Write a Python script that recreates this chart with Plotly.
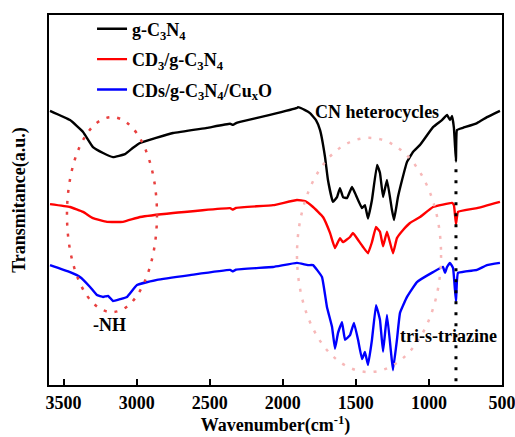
import plotly.graph_objects as go

# FTIR spectra (wavenumber in cm^-1, transmittance in arbitrary units, offset per sample)
wn_gcn = [3593, 3456, 3367, 3299, 3230, 3162, 3080, 3025, 2977, 2751, 2519, 2361, 2341, 2320,
          2293, 2088, 1903, 1896, 1848, 1814, 1773, 1745, 1711, 1691, 1657, 1629, 1609, 1588,
          1561, 1527, 1506, 1458, 1438, 1417, 1390, 1355, 1335, 1314, 1287, 1253, 1239, 1212,
          1184, 1150, 1109, 1061, 972, 911, 876, 856, 842, 829, 815, 808, 767, 671, 603, 514]
t_gcn = [74.1, 71.6, 68.4, 64.3, 62.7, 61.6, 62.4, 64.1, 65.4, 68.1, 69.5, 70.6, 70.3, 70.8,
         71.1, 73.0, 74.9, 75.1, 74.3, 73.5, 71.6, 68.9, 61.6, 55.4, 49.5, 50.8, 53.2, 50.8,
         50.5, 53.5, 51.9, 47.8, 48.6, 45.0, 50.0, 59.5, 57.3, 50.8, 55.4, 47.3, 44.6, 50.8,
         55.4, 60.3, 63.0, 64.9, 69.7, 71.6, 73.0, 71.6, 72.7, 69.5, 60.4, 68.9, 69.5, 70.8, 72.4, 74.1]

wn_cd = [3593, 3456, 3367, 3299, 3203, 3094, 2977, 2751, 2361, 2341, 2320, 2067, 1903, 1848,
         1793, 1725, 1677, 1643, 1609, 1588, 1540, 1520, 1485, 1451, 1417, 1390, 1362, 1335,
         1314, 1287, 1246, 1219, 1177, 1130, 1061, 972, 842, 829, 815, 801, 671, 514]
t_cd = [48.9, 48.1, 46.8, 45.1, 44.1, 44.1, 45.4, 46.5, 47.8, 47.4, 47.9, 48.6, 50.0, 49.7,
        48.1, 45.4, 41.1, 37.0, 39.7, 38.6, 40.0, 41.1, 39.2, 37.3, 35.6, 38.6, 42.7, 41.4,
        37.5, 41.4, 35.6, 39.7, 41.9, 43.8, 45.4, 48.1, 49.2, 48.6, 43.5, 46.8, 47.8, 49.5]

wn_cu = [3593, 3456, 3388, 3319, 3272, 3230, 3196, 3162, 3114, 3066, 2998, 2861, 2635, 2361,
         2341, 2320, 2067, 1903, 1828, 1793, 1732, 1698, 1663, 1643, 1622, 1595, 1574, 1540,
         1513, 1485, 1458, 1438, 1417, 1390, 1362, 1335, 1314, 1287, 1260, 1246, 1219, 1198,
         1150, 1082, 972, 904, 890, 876, 856, 835, 815, 801, 671, 603, 514]
t_cu = [32.4, 30.5, 29.2, 26.5, 24.3, 23.8, 24.1, 22.7, 23.2, 23.8, 27.0, 28.4, 29.7, 31.1,
        30.7, 31.2, 31.9, 33.0, 32.4, 32.4, 29.2, 21.1, 15.7, 9.8, 14.1, 17.0, 12.2, 13.5,
        16.8, 12.2, 7.0, 8.9, 5.4, 12.2, 21.6, 17.6, 9.0, 18.9, 9.0, 4.0, 12.2, 19.5,
        23.8, 27.8, 30.5, 31.9, 30.3, 31.9, 33.0, 31.6, 22.6, 30.3, 31.1, 32.4, 33.0]

names = ["g-C<sub>3</sub>N<sub>4</sub>",
         "CD<sub>3</sub>/g-C<sub>3</sub>N<sub>4</sub>",
         "CDs/g-C<sub>3</sub>N<sub>4</sub>/Cu<sub>x</sub>O"]
colors = ["#000000", "#ff0000", "#0000ff"]

# band annotations
triazine_wn = 815
triazine_span = [1.0, 58.5]
nh_box = dict(x0=3477, x1=2861, y0=19.7, y1=72.4)
cn_box = dict(x0=1903, x1=917, y0=3.5, y1=66.8)
x_ticks = [3500, 3000, 2500, 2000, 1500, 1000, 500]

FONT = "Liberation Serif"

fig = go.Figure()
for wn, t, name, c in zip([wn_gcn, wn_cd, wn_cu], [t_gcn, t_cd, t_cu], names, colors):
    fig.add_trace(go.Scatter(x=wn, y=t, mode="lines", name=name, legendgroup=name,
                             line=dict(color=c, width=2.4, shape="spline", smoothing=0.3)))

fig.add_shape(type="circle", xref="x", yref="y", **nh_box,
              line=dict(color="#e8403f", width=2.5, dash="3px,8px"))
fig.add_shape(type="circle", xref="x", yref="y", **cn_box,
              line=dict(color="#f7b8b8", width=2.5, dash="3px,8px"))
fig.add_shape(type="line", xref="x", yref="y", x0=triazine_wn, x1=triazine_wn,
              y0=triazine_span[0], y1=triazine_span[1],
              line=dict(color="#000000", width=3, dash="3px,8px"))

label_font = dict(family=FONT, size=18, color="#000000", weight="bold")
fig.add_annotation(x=1355, y=73.8, text="CN heterocycles", showarrow=False, font=label_font)
fig.add_annotation(x=863, y=13.2, text="tri-s-triazine", showarrow=False, font=label_font)
fig.add_annotation(x=3183, y=16.2, text="-NH", showarrow=False, font=label_font)

fig.update_layout(
    width=515, height=437,
    margin=dict(l=49, r=13, t=15, b=52, autoexpand=False),
    paper_bgcolor="white", plot_bgcolor="white",
    font=dict(family=FONT, color="#000000", weight="bold"),
    showlegend=True,
    legend=dict(x=0.095, y=1.012, xanchor="left", yanchor="top",
                bgcolor="rgba(0,0,0,0)", font=dict(family=FONT, size=18, weight="bold"),
                tracegroupgap=4),
    xaxis=dict(range=[3600, 500], tickvals=x_ticks, ticktext=[str(v) for v in x_ticks],
               ticks="inside", ticklen=6, tickwidth=2, tickcolor="#000000",
               showline=True, linecolor="#000000", linewidth=2, mirror=True,
               showgrid=False, zeroline=False, automargin=False,
               ticklabeloverflow="allow",
               tickfont=dict(family=FONT, size=18, weight="bold"),
               title=dict(text="Wavenumber(cm<sup>-1</sup>)", standoff=1,
                          font=dict(family=FONT, size=18, weight="bold"))),
    yaxis=dict(range=[0, 100], showticklabels=False, ticks="",
               showline=True, linecolor="#000000", linewidth=2, mirror=True,
               showgrid=False, zeroline=False, automargin=False,
               title=dict(text="Transmitance(a.u.)", standoff=17,
                          font=dict(family=FONT, size=18, weight="bold"))),
)

fig.write_html("out.html")
